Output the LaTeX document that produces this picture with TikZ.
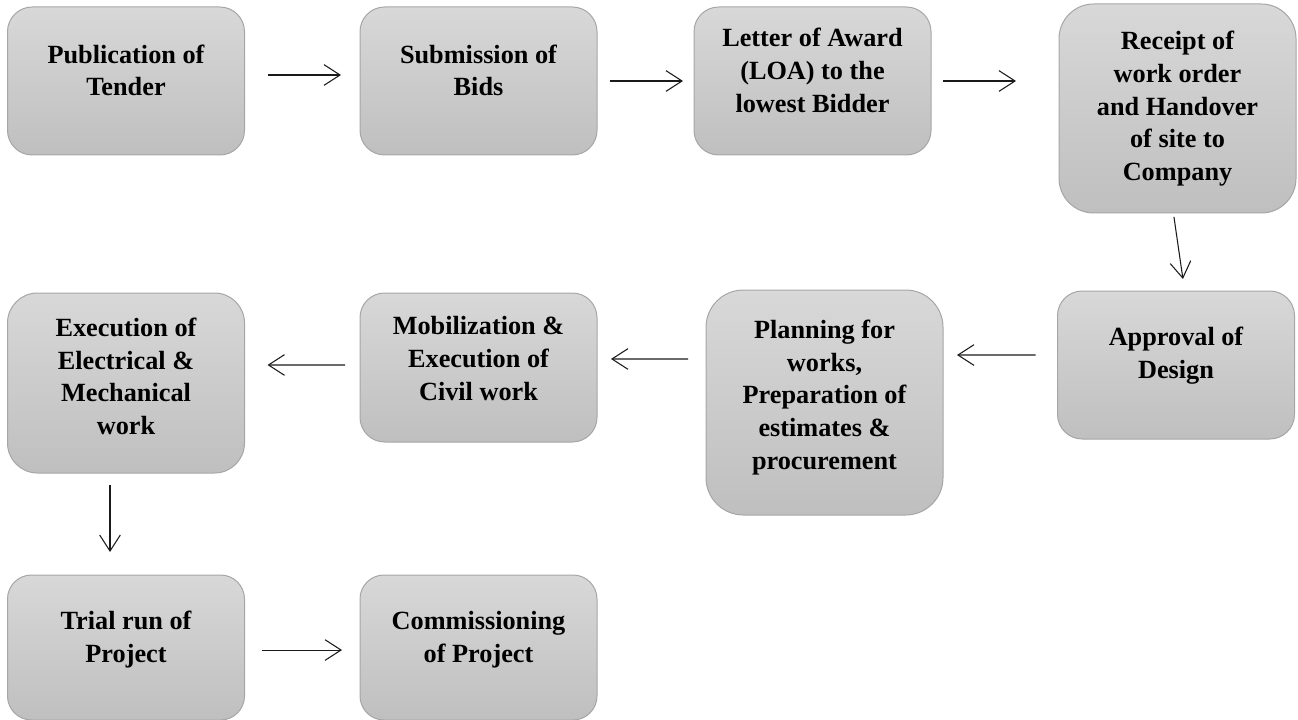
\documentclass[tikz,border=0pt]{standalone}
\usepackage{fontspec}
\setmainfont{Liberation Serif}
\usetikzlibrary{arrows.meta}
\definecolor{boxtop}{HTML}{D8D8D8}
\definecolor{boxbot}{HTML}{BFBFBF}
\definecolor{boxline}{HTML}{A6A6A6}
\definecolor{arrline}{HTML}{1A1A1A}
\newcommand\bxt[2][6pt]{\raisebox{#1}[\height][\depth]{\begin{tabular}{@{}c@{}}#2\end{tabular}}}
\tikzset{
  bx/.style={draw=boxline, line width=0.75pt, top color=boxtop, bottom color=boxbot,
    inner sep=0pt, outer sep=0pt, minimum width=177.75pt, align=center,
    font=\fontsize{19.7pt}{24.5pt}\selectfont\bfseries},
  arr/.style={draw=arrline, line width=0.8pt, -{Straight Barb[length=12pt,width=15.5pt,line width=0.8pt]}}
}
\begin{document}
\begin{tikzpicture}[x=0.75pt,y=-0.75pt]
\useasboundingbox (0,0) rectangle (1298,720);
% row 1
\node[bx, minimum height=111pt, rounded corners=18.5pt] (b1) at (126,81) {\bxt{Publication of\\Tender}};
\node[bx, minimum height=111pt, rounded corners=18.5pt] (b2) at (478.5,81) {\bxt{Submission of\\Bids}};
\node[bx, minimum height=111pt, rounded corners=18.5pt] (b3) at (812.5,81) {\bxt{Letter of Award\\(LOA) to the\\lowest Bidder}};
\node[bx, minimum height=156.75pt, rounded corners=26pt] (b4) at (1177.5,108.5) {\bxt[0pt]{Receipt of\\work order\\and Handover\\of site to\\Company}};
% row 2
\node[bx, minimum height=111pt, rounded corners=18.5pt] (b5) at (1176,365) {\bxt[7pt]{Approval of\\Design}};
\node[bx, minimum height=168.75pt, rounded corners=28pt] (b6) at (824.5,402.5) {\bxt[4pt]{Planning for\\works,\\Preparation of\\estimates \&\\procurement}};
\node[bx, minimum height=111.75pt, rounded corners=18.5pt] (b7) at (478.5,367.5) {\bxt[5pt]{Mobilization \&\\Execution of\\Civil work}};
\node[bx, minimum height=135pt, rounded corners=22.5pt] (b8) at (126,383) {\bxt[3pt]{Execution of\\Electrical \&\\Mechanical\\work}};
% row 3
\node[bx, minimum height=108.75pt, rounded corners=18pt] (b9) at (126,647.5) {\bxt{Trial run of\\Project}};
\node[bx, minimum height=108.75pt, rounded corners=18pt] (b10) at (478.5,647.5) {\bxt{Commissioning\\of Project}};
% connectors
\draw[arr, shorten <=17.25pt, shorten >=14.25pt] ([yshift=4.5pt]b1.east) -- ([yshift=4.5pt]b2.west);
\draw[arr, shorten <=9.75pt, shorten >=8.25pt] (b2.east) -- (b3.west);
\draw[arr, shorten <=9pt, shorten >=32.25pt] (b3.east) -- (b4.west |- b3.east);
\draw[arr, shorten <=3pt, shorten >=9.1pt] ([xshift=-3.1pt]b4.south) -- ([xshift=6.5pt]b5.north);
\draw[arr, shorten <=16.5pt, shorten >=10.5pt] ([yshift=7.5pt]b5.west) -- ([yshift=35.6pt]b6.east);
\draw[arr, shorten <=13.5pt, shorten >=10.5pt] ([yshift=32.6pt]b6.west) -- ([yshift=6.4pt]b7.east);
\draw[arr, shorten <=11.25pt, shorten >=17.25pt] ([yshift=1.9pt]b7.west) -- ([yshift=13.5pt]b8.east);
\draw[arr, shorten <=9pt, shorten >=17.25pt] ([xshift=-12pt]b8.south) -- ([xshift=-12pt]b9.north);
\draw[arr, shorten <=12.75pt, shorten >=13.5pt] ([yshift=-1.9pt]b9.east) -- ([yshift=-1.9pt]b10.west);
\end{tikzpicture}
\end{document}
